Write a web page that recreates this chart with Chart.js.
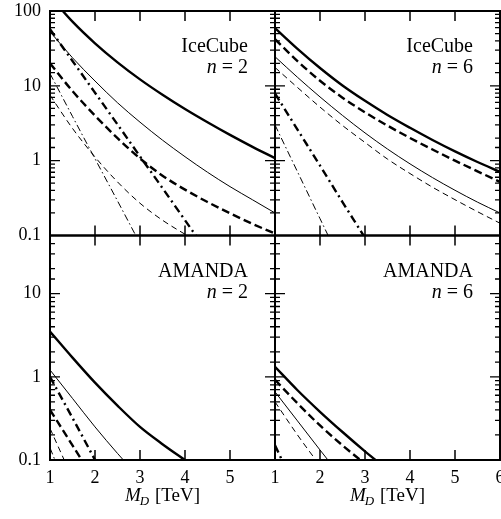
<!DOCTYPE html>
<html>
<head>
<meta charset="utf-8">
<script src="https://cdn.jsdelivr.net/npm/chart.js@4.4.1/dist/chart.umd.min.js"></script>
<style>
  html, body { margin: 0; padding: 0; background: #fff; }
  #wrap { width: 501px; height: 519px; }
</style>
</head>
<body>
<div id="wrap"><canvas id="chart" width="501" height="519"></canvas></div>
<script>
// M_D in TeV, shared by every curve
const massTeV = [1, 1.5, 2, 2.5, 3, 3.5, 4, 4.5, 5, 5.5, 6];

// IceCube, n = 2
const ic2ThickSolid   = [157, 72, 37, 20.6, 12.2, 7.6, 4.9, 3.26, 2.21, 1.53, 1.08];
const ic2ThinSolid    = [53, 23.7, 11.6, 5.94, 3.27, 1.88, 1.13, 0.70, 0.45, 0.30, 0.20];
const ic2ThickDashed  = [20, 8.5, 4.0, 2.0, 1.07, 0.63, 0.41, 0.28, 0.198, 0.143, 0.106];
const ic2ThinDashed   = [7.5, 2.7, 1.12, 0.52, 0.27, 0.16, 0.104, 0.07];
const ic2ThickDashDot = [57, 21.5, 8.1, 3.05, 1.14, 0.43, 0.16, 0.06];
const ic2ThinDashDot  = [14.6, 3.9, 1.06, 0.29, 0.078];

// IceCube, n = 6
const ic6ThickSolid   = [59, 31.2, 17.3, 10.1, 6.3, 4.08, 2.75, 1.89, 1.33, 0.96, 0.71];
const ic6ThinSolid    = [24.5, 13, 7.11, 4.02, 2.35, 1.43, 0.906, 0.594, 0.402, 0.279, 0.2];
const ic6ThickDashed  = [42, 21.4, 11.7, 6.95, 4.42, 2.94, 2.01, 1.41, 1.0, 0.72, 0.52];
const ic6ThinDashed   = [17.6, 9.5, 5.2, 2.95, 1.75, 1.05, 0.673, 0.442, 0.301, 0.208, 0.146];
const ic6ThickDashDot = [7.9, 2.6, 0.86, 0.28, 0.093, 0.03];
const ic6ThinDashDot  = [3.0, 0.71, 0.168, 0.04];

// AMANDA, n = 2
const am2ThickSolid   = [3.5, 1.7, 0.85, 0.45, 0.25, 0.155, 0.1, 0.065];
const am2ThinSolid    = [1.21, 0.55, 0.25, 0.12, 0.06];
const am2ThickDashed  = [0.4, 0.15, 0.055];
const am2ThinDashed   = [0.24, 0.06];
const am2ThickDashDot = [1.0, 0.32, 0.1, 0.03];
const am2ThinDashDot  = [0.14, 0.03];

// AMANDA, n = 6
const am6ThickSolid   = [1.32, 0.69, 0.38, 0.217, 0.127, 0.0766];
const am6ThinSolid    = [0.66, 0.295, 0.132, 0.06];
const am6ThickDashed  = [0.92, 0.48, 0.26, 0.15, 0.09, 0.055];
const am6ThinDashed   = [0.5, 0.2, 0.085, 0.035];
const am6ThickDashDot = [0.15, 0.04];
const am6ThinDashDot  = [0.09, 0.02];

const xTicks = [1, 2, 3, 4, 5, 6];
const yDecades = [0.1, 1, 10, 100];

const serif = "'Liberation Serif', 'Times New Roman', serif";

const lineStyles = {
  thickSolid:   { borderWidth: 2.4, borderDash: [] },
  thinSolid:    { borderWidth: 1,   borderDash: [] },
  thickDashed:  { borderWidth: 2.4, borderDash: [8, 4] },
  thinDashed:   { borderWidth: 1,   borderDash: [6, 4] },
  thickDashDot: { borderWidth: 2.4, borderDash: [8, 4, 2, 4] },
  thinDashDot:  { borderWidth: 1,   borderDash: [7, 3, 1.5, 3] },
};

function curve(values, style, xID, yID) {
  return {
    data: values.map((v, i) => ({ x: massTeV[i], y: v })),
    xAxisID: xID,
    yAxisID: yID,
    borderColor: "#000",
    backgroundColor: "#000",
    borderWidth: lineStyles[style].borderWidth,
    borderDash: lineStyles[style].borderDash,
    pointRadius: 0,
    cubicInterpolationMode: "monotone",
    clip: 0,
    fill: false,
  };
}

const datasets = [
  curve(ic2ThickSolid, "thickSolid", "xL", "yTop"),
  curve(ic2ThinSolid, "thinSolid", "xL", "yTop"),
  curve(ic2ThickDashed, "thickDashed", "xL", "yTop"),
  curve(ic2ThinDashed, "thinDashed", "xL", "yTop"),
  curve(ic2ThickDashDot, "thickDashDot", "xL", "yTop"),
  curve(ic2ThinDashDot, "thinDashDot", "xL", "yTop"),

  curve(ic6ThickSolid, "thickSolid", "xR", "yTop"),
  curve(ic6ThinSolid, "thinSolid", "xR", "yTop"),
  curve(ic6ThickDashed, "thickDashed", "xR", "yTop"),
  curve(ic6ThinDashed, "thinDashed", "xR", "yTop"),
  curve(ic6ThickDashDot, "thickDashDot", "xR", "yTop"),
  curve(ic6ThinDashDot, "thinDashDot", "xR", "yTop"),

  curve(am2ThickSolid, "thickSolid", "xL", "yBot"),
  curve(am2ThinSolid, "thinSolid", "xL", "yBot"),
  curve(am2ThickDashed, "thickDashed", "xL", "yBot"),
  curve(am2ThinDashed, "thinDashed", "xL", "yBot"),
  curve(am2ThickDashDot, "thickDashDot", "xL", "yBot"),
  curve(am2ThinDashDot, "thinDashDot", "xL", "yBot"),

  curve(am6ThickSolid, "thickSolid", "xR", "yBot"),
  curve(am6ThinSolid, "thinSolid", "xR", "yBot"),
  curve(am6ThickDashed, "thickDashed", "xR", "yBot"),
  curve(am6ThinDashed, "thinDashed", "xR", "yBot"),
  curve(am6ThickDashDot, "thickDashDot", "xR", "yBot"),
  curve(am6ThinDashDot, "thinDashDot", "xR", "yBot"),
];

const panels = [
  { x: "xL", y: "yTop", name: "IceCube", n: "2" },
  { x: "xR", y: "yTop", name: "IceCube", n: "6" },
  { x: "xL", y: "yBot", name: "AMANDA", n: "2" },
  { x: "xR", y: "yBot", name: "AMANDA", n: "6" },
];

function isDecade(v) {
  const l = Math.log10(v);
  return Math.abs(l - Math.round(l)) < 1e-6;
}

function xScale(hideLast) {
  return {
    type: "linear",
    position: "bottom",
    stack: "h",
    stackWeight: 1,
    min: 1,
    max: 6,
    grid: { display: false, drawTicks: false },
    border: { display: false },
    afterBuildTicks: (s) => { s.ticks = xTicks.map((v) => ({ value: v })); },
    ticks: {
      autoSkip: false,
      maxRotation: 0,
      padding: 7,
      color: "#000",
      font: { family: serif, size: 18 },
      callback: (v) => (hideLast && v === 6 ? "" : String(v)),
    },
    afterFit: (s) => { s.height = 59; s.paddingRight = 0; s.paddingLeft = 0; },
  };
}

function yScale(max) {
  return {
    type: "logarithmic",
    position: "left",
    stack: "v",
    stackWeight: 1,
    min: 0.1,
    max: max,
    grid: { display: false, drawTicks: false },
    border: { display: false },
    ticks: {
      autoSkip: false,
      padding: 9,
      color: "#000",
      font: { family: serif, size: 18 },
      callback: (v) => (yDecades.includes(v) ? String(v) : ""),
    },
    afterFit: (s) => { s.width = 50; s.paddingTop = 0; s.paddingBottom = 0; },
  };
}

const framePlugin = {
  id: "frames",
  afterDatasetsDraw(chart) {
    const ctx = chart.ctx;
    ctx.save();
    ctx.strokeStyle = "#000";
    ctx.fillStyle = "#000";
    panels.forEach((p) => {
      const xs = chart.scales[p.x];
      const ys = chart.scales[p.y];
      const l = xs.left, r = xs.right, t = ys.top, b = ys.bottom;

      // inward tick marks on all four sides
      ctx.lineWidth = 1.5;
      ctx.beginPath();
      xs.ticks.forEach((tk) => {
        if (tk.value <= xs.min || tk.value >= xs.max) return;
        const px = xs.getPixelForValue(tk.value);
        ctx.moveTo(px, b); ctx.lineTo(px, b - 10);
        ctx.moveTo(px, t); ctx.lineTo(px, t + 10);
      });
      ctx.stroke();
      ctx.lineWidth = 1.3;
      ctx.beginPath();
      ys.ticks.forEach((tk) => {
        if (tk.value <= ys.min || tk.value >= ys.max) return;
        const py = ys.getPixelForValue(tk.value);
        const len = isDecade(tk.value) ? 10 : 5;
        ctx.moveTo(l, py); ctx.lineTo(l + len, py);
        ctx.moveTo(r, py); ctx.lineTo(r - len, py);
      });
      ctx.stroke();

      ctx.lineWidth = 2;
      ctx.strokeRect(l, t, r - l, b - t);

      // panel label
      ctx.textAlign = "right";
      ctx.textBaseline = "alphabetic";
      ctx.font = "20px " + serif;
      ctx.fillText(p.name, r - 27, t + 41);
      const rest = " = " + p.n;
      const wRest = ctx.measureText(rest).width;
      ctx.fillText(rest, r - 27, t + 62);
      ctx.font = "italic 20px " + serif;
      ctx.fillText("n", r - 27 - wRest, t + 62);
    });

    // axis titles: M_D [TeV]
    ["xL", "xR"].forEach((id) => {
      const xs = chart.scales[id];
      const cx = (xs.left + xs.right) / 2;
      const base = 501;
      ctx.textAlign = "left";
      ctx.textBaseline = "alphabetic";
      ctx.font = "italic 19px " + serif;
      const wM = ctx.measureText("M").width;
      ctx.font = "italic 13px " + serif;
      const wD = ctx.measureText("D").width;
      ctx.font = "19px " + serif;
      const wT = ctx.measureText(" [TeV]").width;
      let x0 = cx - (wM + wD + wT) / 2;
      ctx.font = "italic 19px " + serif;
      ctx.fillText("M", x0, base);
      ctx.font = "italic 13px " + serif;
      ctx.fillText("D", x0 + wM - 1, base + 4);
      ctx.font = "19px " + serif;
      ctx.fillText(" [TeV]", x0 + wM + wD, base);
    });
    ctx.restore();
  },
};

new Chart(document.getElementById("chart"), {
  type: "line",
  data: { datasets: datasets },
  options: {
    responsive: false,
    animation: false,
    devicePixelRatio: 1,
    layout: { padding: { top: 11, right: 1, left: 0, bottom: 0 } },
    plugins: {
      legend: { display: false },
      tooltip: { enabled: false },
    },
    scales: {
      xL: xScale(true),
      xR: xScale(false),
      // left boxes are stacked in reverse order, so the lower panel comes first
      yBot: yScale(50),
      yTop: yScale(100),
    },
  },
  plugins: [framePlugin],
});
</script>
</body>
</html>
